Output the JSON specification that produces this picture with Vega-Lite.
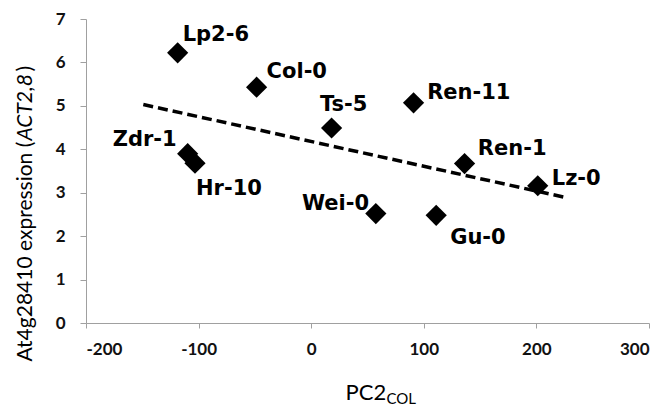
{
  "$schema": "https://vega.github.io/schema/vega-lite/v6.json",
  "width": 563,
  "height": 304,
  "autosize": {"type": "none"},
  "padding": {"left": 86, "top": 19, "right": 17, "bottom": 88},
  "background": "white",
  "config": {
    "view": {"stroke": null},
    "axis": {
      "grid": false,
      "labelFont": "Lato",
      "labelFontSize": 17,
      "labelFontWeight": "bold",
      "labelColor": "#111111",
      "titleFont": "Lato",
      "titleFontSize": 21,
      "titleFontWeight": "normal",
      "titleColor": "#000000",
      "domainColor": "#a0a0a0",
      "tickColor": "#a0a0a0"
    }
  },
  "datasets": {
    "pts": [
      {"name": "Lp2-6", "pc2": -118.6, "expr": 6.22},
      {"name": "Col-0", "pc2": -48.5, "expr": 5.43},
      {"name": "Ts-5", "pc2": 18.1, "expr": 4.49},
      {"name": "Zdr-1", "pc2": -109.7, "expr": 3.90},
      {"name": "Hr-10", "pc2": -103.2, "expr": 3.68},
      {"name": "Ren-11", "pc2": 90.9, "expr": 5.07},
      {"name": "Ren-1", "pc2": 136.2, "expr": 3.67},
      {"name": "Lz-0", "pc2": 201.2, "expr": 3.16},
      {"name": "Wei-0", "pc2": 57.4, "expr": 2.52},
      {"name": "Gu-0", "pc2": 111.0, "expr": 2.48}
    ],
    "trend": [
      {"pc2": -149.1, "expr": 5.03},
      {"pc2": 227.9, "expr": 2.88}
    ]
  },
  "resolve": {"axis": {"x": "independent", "y": "independent"}},
  "layer": [
    {
      "data": {"name": "trend"},
      "mark": {"type": "line", "color": "black", "strokeWidth": 3.5, "strokeDash": [10, 5]},
      "encoding": {
        "x": {"field": "pc2", "type": "quantitative",
          "scale": {"domain": [-200, 300], "nice": false, "zero": false},
          "axis": {"orient": "bottom", "values": [-200, -100, 0, 100, 200, 300], "tickSize": 5, "labelPadding": 13,
            "labelExpr": "'' + datum.value",
            "title": "PC2", "titleFontSize": 22, "titleX": 259, "titleY": 76, "titleAlign": "left", "titleBaseline": "alphabetic", "titleAnchor": "start"}},
        "y": {"field": "expr", "type": "quantitative",
          "scale": {"domain": [0, 7], "nice": false},
          "axis": {"orient": "left", "values": [0, 1, 2, 3, 4, 5, 6, 7], "tickSize": 6, "labelPadding": 15,
            "title": "At4g28410 expression (", "titleAngle": 270, "titleX": -61, "titleY": 342, "titleAlign": "left", "titleBaseline": "middle"}}
      }
    },
    {
      "data": {"name": "pts"},
      "mark": {"type": "point", "shape": "diamond", "filled": true, "color": "black", "opacity": 1, "size": 450},
      "encoding": {
        "x": {"field": "pc2", "type": "quantitative",
          "axis": {"orient": "top", "domain": false, "ticks": false, "labels": false,
            "title": "COL", "titleFontSize": 15, "titleX": 300, "titleY": 384.7, "titleAlign": "left", "titleBaseline": "alphabetic"}},
        "y": {"field": "expr", "type": "quantitative",
          "axis": {"orient": "right", "domain": false, "ticks": false, "labels": false,
            "title": "ACT2,8", "titleFontStyle": "italic", "titleAngle": 270, "titleX": -624, "titleY": 121, "titleAlign": "left", "titleBaseline": "middle"}}
      }
    },
    {
      "data": {"name": "pts"},
      "transform": [{"filter": "datum.name == 'Lp2-6'"}],
      "mark": {"type": "text", "font": "DejaVu Sans", "fontWeight": "bold", "fontSize": 21, "align": "left", "baseline": "alphabetic", "dx": 5, "dy": -11.6, "color": "black"},
      "encoding": {
        "x": {"field": "pc2", "type": "quantitative", "axis": null},
        "y": {"field": "expr", "type": "quantitative",
          "axis": {"orient": "left", "domain": false, "ticks": false, "labels": false,
            "title": ")", "titleAngle": 270, "titleX": -61, "titleY": 52, "titleAlign": "left", "titleBaseline": "middle"}},
        "text": {"field": "name"}
      }
    },
    {
      "data": {"name": "pts"},
      "transform": [{"filter": "datum.name == 'Col-0'"}],
      "mark": {"type": "text", "font": "DejaVu Sans", "fontWeight": "bold", "fontSize": 21, "align": "left", "baseline": "alphabetic", "dx": 10, "dy": -9, "color": "black"},
      "encoding": {
        "x": {"field": "pc2", "type": "quantitative", "axis": null},
        "y": {"field": "expr", "type": "quantitative", "axis": null},
        "text": {"field": "name"}
      }
    },
    {
      "data": {"name": "pts"},
      "transform": [{"filter": "datum.name == 'Ts-5'"}],
      "mark": {"type": "text", "font": "DejaVu Sans", "fontWeight": "bold", "fontSize": 21, "align": "left", "baseline": "alphabetic", "dx": -11.7, "dy": -16.6, "color": "black"},
      "encoding": {
        "x": {"field": "pc2", "type": "quantitative", "axis": null},
        "y": {"field": "expr", "type": "quantitative", "axis": null},
        "text": {"field": "name"}
      }
    },
    {
      "data": {"name": "pts"},
      "transform": [{"filter": "datum.name == 'Zdr-1'"}],
      "mark": {"type": "text", "font": "DejaVu Sans", "fontWeight": "bold", "fontSize": 21, "align": "right", "baseline": "alphabetic", "dx": -11, "dy": -7.3, "color": "black"},
      "encoding": {
        "x": {"field": "pc2", "type": "quantitative", "axis": null},
        "y": {"field": "expr", "type": "quantitative", "axis": null},
        "text": {"field": "name"}
      }
    },
    {
      "data": {"name": "pts"},
      "transform": [{"filter": "datum.name == 'Hr-10'"}],
      "mark": {"type": "text", "font": "DejaVu Sans", "fontWeight": "bold", "fontSize": 21, "align": "left", "baseline": "alphabetic", "dx": 1, "dy": 31.7, "color": "black"},
      "encoding": {
        "x": {"field": "pc2", "type": "quantitative", "axis": null},
        "y": {"field": "expr", "type": "quantitative", "axis": null},
        "text": {"field": "name"}
      }
    },
    {
      "data": {"name": "pts"},
      "transform": [{"filter": "datum.name == 'Wei-0'"}],
      "mark": {"type": "text", "font": "DejaVu Sans", "fontWeight": "bold", "fontSize": 21, "align": "right", "baseline": "alphabetic", "dx": -6.7, "dy": -3.3, "color": "black"},
      "encoding": {
        "x": {"field": "pc2", "type": "quantitative", "axis": null},
        "y": {"field": "expr", "type": "quantitative", "axis": null},
        "text": {"field": "name"}
      }
    },
    {
      "data": {"name": "pts"},
      "transform": [{"filter": "datum.name == 'Gu-0'"}],
      "mark": {"type": "text", "font": "DejaVu Sans", "fontWeight": "bold", "fontSize": 21, "align": "left", "baseline": "alphabetic", "dx": 14, "dy": 28.6, "color": "black"},
      "encoding": {
        "x": {"field": "pc2", "type": "quantitative", "axis": null},
        "y": {"field": "expr", "type": "quantitative", "axis": null},
        "text": {"field": "name"}
      }
    },
    {
      "data": {"name": "pts"},
      "transform": [{"filter": "datum.name == 'Ren-11'"}],
      "mark": {"type": "text", "font": "DejaVu Sans", "fontWeight": "bold", "fontSize": 21, "align": "left", "baseline": "alphabetic", "dx": 13.6, "dy": -4.3, "color": "black"},
      "encoding": {
        "x": {"field": "pc2", "type": "quantitative", "axis": null},
        "y": {"field": "expr", "type": "quantitative", "axis": null},
        "text": {"field": "name"}
      }
    },
    {
      "data": {"name": "pts"},
      "transform": [{"filter": "datum.name == 'Ren-1'"}],
      "mark": {"type": "text", "font": "DejaVu Sans", "fontWeight": "bold", "fontSize": 21, "align": "left", "baseline": "alphabetic", "dx": 13.3, "dy": -9, "color": "black"},
      "encoding": {
        "x": {"field": "pc2", "type": "quantitative", "axis": null},
        "y": {"field": "expr", "type": "quantitative", "axis": null},
        "text": {"field": "name"}
      }
    },
    {
      "data": {"name": "pts"},
      "transform": [{"filter": "datum.name == 'Lz-0'"}],
      "mark": {"type": "text", "font": "DejaVu Sans", "fontWeight": "bold", "fontSize": 21, "align": "left", "baseline": "alphabetic", "dx": 14, "dy": -1, "color": "black"},
      "encoding": {
        "x": {"field": "pc2", "type": "quantitative", "axis": null},
        "y": {"field": "expr", "type": "quantitative", "axis": null},
        "text": {"field": "name"}
      }
    }
  ]
}
